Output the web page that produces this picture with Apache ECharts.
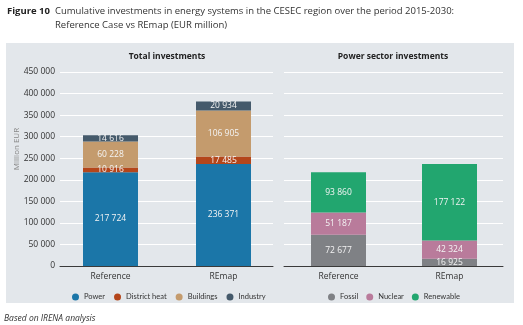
<!DOCTYPE html>
<html><head><meta charset="utf-8">
<script src="https://cdn.jsdelivr.net/npm/echarts@6/dist/echarts.min.js"></script>
<style>html,body{margin:0;padding:0;background:#fff}#c{width:523px;height:325px}</style>
</head><body><div id="c"></div>
<script>
const categories = ['Reference', 'REmap'];
const power = [217724, 236371];
const districtHeat = [10916, 17485];
const buildings = [60228, 106905];
const industry = [14616, 20934];
const fossil = [72677, 16925];
const nuclear = [51187, 42324];
const renewable = [93860, 177122];
const yTicks = [0, 50000, 100000, 150000, 200000, 250000, 300000, 350000, 400000, 450000];

const FONT = 'Open Sans';
const LFONT = 'Lato';
const fmt = v => String(v).replace(/\B(?=(\d{3})+(?!\d))/g, ' ');
const yMax = yTicks[yTicks.length - 1];
const yStep = yTicks[1] - yTicks[0];

const chart = echarts.init(document.getElementById('c'), null, {renderer: 'canvas'});
const TOP = 72, BOTTOM = 325 - 266;

function bar(name, data, color, xi) {
  return {
    name, type: 'bar', stack: 's' + xi, data, xAxisIndex: xi, yAxisIndex: xi,
    barWidth: 55, itemStyle: {color},
    label: {show: true, position: 'inside', color: '#f4f4f4', fontFamily: FONT, fontSize: 8.5,
      formatter: p => fmt(p.value)},
    emphasis: {disabled: true}
  };
}

const hiddenY = {type: 'value', min: 0, max: yMax, interval: yStep, show: false};
const legendText = {fontSize: 7.5, color: '#333', fontFamily: LFONT};

chart.setOption({
  animation: false,
  textStyle: {fontFamily: FONT},
  graphic: [
    {type: 'rect', shape: {x: 6, y: 43, width: 508, height: 260}, style: {fill: '#e3e7eb'}, z: -10},
    {type: 'text', x: 7, y: 11, style: {text: 'Figure 10', fontFamily: FONT, fontWeight: 'bold', fontSize: 9.5, fill: '#222', verticalAlign: 'middle'}},
    {type: 'text', x: 55, y: 11, style: {text: 'Cumulative investments in energy systems in the CESEC region over the period 2015-2030:', fontFamily: FONT, fontSize: 9.5, fill: '#333', verticalAlign: 'middle'}},
    {type: 'text', x: 55, y: 25, style: {text: 'Reference Case vs REmap (EUR million)', fontFamily: FONT, fontSize: 9.5, fill: '#333', verticalAlign: 'middle'}},
    {type: 'text', x: 167, y: 57, style: {text: 'Total investments', fontFamily: FONT, fontWeight: 'bold', fontSize: 8.5, fill: '#222', align: 'center', verticalAlign: 'middle'}},
    {type: 'text', x: 393, y: 57, style: {text: 'Power sector investments', fontFamily: FONT, fontWeight: 'bold', fontSize: 8.5, fill: '#222', align: 'center', verticalAlign: 'middle'}},
    {type: 'text', x: 17, y: 149, rotation: Math.PI / 2, style: {text: 'Million EUR', fontFamily: FONT, fontSize: 8, fill: '#888', align: 'center', verticalAlign: 'middle'}},
    {type: 'text', x: 4, y: 319, style: {text: 'Based on IRENA analysis', fontFamily: FONT, fontStyle: 'italic', fontSize: 8.5, fill: '#333', verticalAlign: 'middle'}}
  ],
  grid: [
    {left: 60, width: 213, top: TOP, bottom: BOTTOM},
    {left: 54, width: 226, top: TOP, bottom: BOTTOM},
    {left: 284, width: 219, top: TOP, bottom: BOTTOM},
    {left: 283, width: 222, top: TOP, bottom: BOTTOM}
  ],
  xAxis: [
    {type: 'category', gridIndex: 0, data: categories, axisLabel: {show: false}, axisTick: {show: false},
      axisLine: {lineStyle: {color: '#3a3a3a', width: 1}}},
    {type: 'category', gridIndex: 1, data: categories, axisLine: {show: false}, axisTick: {show: false},
      axisLabel: {color: '#333', fontSize: 8.5, fontFamily: FONT, margin: 6}},
    {type: 'category', gridIndex: 2, data: categories, axisLabel: {show: false}, axisTick: {show: false},
      axisLine: {lineStyle: {color: '#3a3a3a', width: 1}}},
    {type: 'category', gridIndex: 3, data: categories, axisLine: {show: false}, axisTick: {show: false},
      axisLabel: {color: '#333', fontSize: 8.5, fontFamily: FONT, margin: 6}}
  ],
  yAxis: [
    {type: 'value', gridIndex: 0, min: 0, max: yMax, interval: yStep, axisLine: {show: false}, axisTick: {show: false},
      axisLabel: {color: '#333', fontSize: 8.5, fontFamily: FONT, margin: 5, formatter: v => fmt(v)},
      splitLine: {lineStyle: {color: '#ffffff', width: 1}}},
    Object.assign({gridIndex: 1}, hiddenY),
    {type: 'value', gridIndex: 2, min: 0, max: yMax, interval: yStep, axisLine: {show: false}, axisTick: {show: false},
      axisLabel: {show: false}, splitLine: {lineStyle: {color: '#ffffff', width: 1}}},
    Object.assign({gridIndex: 3}, hiddenY)
  ],
  legend: [
    {data: ['Power', 'District heat', 'Buildings', 'Industry'], left: 67, top: 288, icon: 'circle',
      itemWidth: 7, itemHeight: 7, itemGap: 9, textStyle: legendText},
    {data: ['Fossil', 'Nuclear', 'Renewable'], left: 323, top: 288, icon: 'circle',
      itemWidth: 7, itemHeight: 7, itemGap: 8, textStyle: legendText}
  ],
  series: [
    bar('Power', power, '#1b76a8', 1),
    bar('District heat', districtHeat, '#b4461b', 1),
    bar('Buildings', buildings, '#c49b6d', 1),
    bar('Industry', industry, '#455a6b', 1),
    bar('Fossil', fossil, '#7f8185', 3),
    bar('Nuclear', nuclear, '#b97b9b', 3),
    bar('Renewable', renewable, '#22a66f', 3)
  ]
});
</script></body></html>
